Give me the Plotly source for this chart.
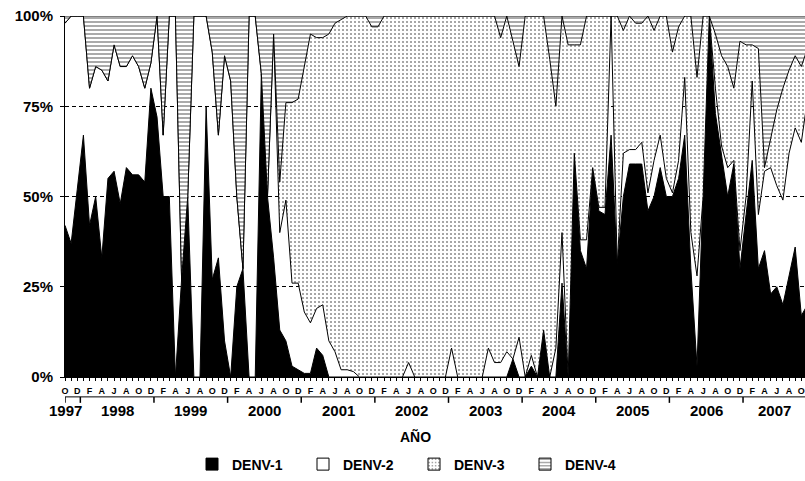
import plotly.graph_objects as go
import pandas as pd

# ---------------- data ----------------
months = [p.strftime('%Y-%m') for p in pd.period_range('1997-10', '2007-11', freq='M')]
month_initials = ['E', 'F', 'M', 'A', 'M', 'J', 'J', 'A', 'S', 'O', 'N', 'D']
years = ['1997', '1998', '1999', '2000', '2001', '2002', '2003', '2004', '2005', '2006', '2007']

denv1 = [42, 37, 52, 67, 42, 50, 33, 55, 57, 48,
         58, 56, 56, 54, 80, 72, 50, 50, 0, 27,
         50, 0, 0, 75, 27, 33, 10, 0, 25, 30,
         0, 0, 84, 50, 33, 13, 10, 3, 2, 1,
         1, 8, 6, 0, 0, 0, 0, 0, 0,
         0, 0, 0, 0, 0, 0, 0, 0, 0, 0,
         0, 0, 0, 0, 0, 0, 0, 0, 0, 0,
         0, 0, 0, 0, 5, 0, 0, 3, 0, 13,
         0, 0, 26, 0, 62, 35, 30, 58, 46,
         45, 67, 31, 50, 59, 59, 59, 46, 50, 58,
         50, 50, 55, 67, 30, 3, 50, 100, 73, 62,
         50, 59, 30, 45, 60, 30, 35, 23, 25, 20,
         28, 36, 17, 20]

denv2 = [56, 63, 48, 33, 38, 36, 52, 27, 35, 38,
         28, 33, 30, 26, 7, 28, 17, 50, 100, 0,
         0, 100, 100, 25, 63, 34, 79, 82, 25, 0,
         100, 100, 0, 0, 62, 27, 39, 23, 24, 17,
         14, 11, 14, 10, 7, 2, 2, 1.5, 0,
         0, 0, 0, 0, 0, 0, 0, 4, 0, 0,
         0, 0, 0, 0, 8, 0, 0, 0, 0, 0,
         8, 4, 4, 7, 0, 11, 0, 3, 0, 0,
         0, 8, 14, 0, 0, 3, 8, 0, 1,
         2, 33, 0, 12, 4, 4, 6, 5, 10, 9,
         5, 1, 5, 16, 10, 25, 0, 0, 7, 2,
         8, 1, 5, 5, 22, 15, 22, 35, 28, 29,
         34, 33, 48, 57]

denv3 = [0, 0, 0, 0, 0, 0, 0, 0, 0, 0,
         0, 0, 0, 0, 0, 0, 0, 0, 0, 0,
         0, 0, 0, 0, 0, 0, 0, 0, 0, 0,
         0, 0, 0, 0, 0, 14, 27, 50, 51, 68,
         80, 75, 74, 85, 91, 97, 98, 98.5, 100,
         100, 97, 97, 100, 100, 100, 100, 96, 100, 100,
         100, 100, 100, 100, 92, 100, 100, 100, 100, 100,
         92, 96, 90, 93, 88, 75, 100, 94, 100, 87,
         88, 67, 60, 92, 30, 54, 62, 42, 53,
         53, 0, 69, 34, 37, 35, 33, 49, 36, 33,
         45, 39, 37, 17, 60, 55, 50, 0, 15, 25,
         28, 20, 58, 42, 10, 46, 1, 8, 21, 31,
         23, 20, 21, 14]

denv4 = [2, 0, 0, 0, 20, 14, 15, 18, 8, 14,
         14, 11, 14, 20, 13, 0, 33, 0, 0, 73,
         50, 0, 0, 0, 10, 33, 11, 18, 50, 70,
         0, 0, 16, 50, 5, 46, 24, 24, 23, 14,
         5, 6, 6, 5, 2, 1, 0, 0, 0,
         0, 3, 3, 0, 0, 0, 0, 0, 0, 0,
         0, 0, 0, 0, 0, 0, 0, 0, 0, 0,
         0, 0, 6, 0, 7, 14, 0, 0, 0, 0,
         12, 25, 0, 8, 8, 8, 0, 0, 0,
         0, 0, 0, 4, 0, 2, 2, 0, 4, 0,
         0, 10, 3, 0, 0, 17, 0, 0, 5, 11,
         14, 20, 7, 8, 8, 9, 42, 34, 26, 20,
         15, 11, 14, 9]

# ---------------- styling ----------------
FONT = 'Liberation Sans, Arial, sans-serif'
X_MAX = 120.6
n = min(len(months), len(denv1), len(denv2), len(denv3), len(denv4))
x = list(range(n))

def py(pix):
    # pixel row -> paper fraction of the plot area (plot spans rows 16..379)
    return (379 - pix) / 363.0

DOTS = dict(shape='.', fgcolor='#222222', bgcolor='white', size=4, solidity=0.22)
WAVES = dict(shape='-', fgcolor='#333333', bgcolor='white', size=4, solidity=0.42)

fills = {
    'DENV-1': dict(fillcolor='black'),
    'DENV-2': dict(fillcolor='rgba(255,255,255,0)'),
    'DENV-3': dict(fillcolor='white', fillpattern=dict(DOTS, fillmode='overlay')),
    'DENV-4': dict(fillcolor='white', fillpattern=dict(WAVES, fillmode='overlay')),
}
legend_markers = {
    'DENV-1': dict(color='black'),
    'DENV-2': dict(color='white'),
    'DENV-3': dict(color='white', pattern=dict(DOTS)),
    'DENV-4': dict(color='white', pattern=dict(WAVES)),
}

fig = go.Figure()
for name, vals in [('DENV-1', denv1), ('DENV-2', denv2), ('DENV-3', denv3), ('DENV-4', denv4)]:
    fig.add_trace(go.Scatter(x=x, y=vals[:n], name=name, stackgroup='s', mode='lines',
                             line=dict(color='black', width=1), showlegend=False,
                             hoverinfo='skip', **fills[name]))
for name in ['DENV-1', 'DENV-2', 'DENV-3', 'DENV-4']:
    mk = dict(legend_markers[name])
    mk['line'] = dict(color='black', width=1)
    fig.add_trace(go.Bar(x=[None], y=[None], name=name, marker=mk, showlegend=True))

# month ticks: every second month labelled with its initial
tickvals = [i for i in x if i % 2 == 0]
ticktext = [month_initials[int(months[i][5:7]) - 1] for i in tickvals]

# year separators & labels
shapes = [dict(type='line', xref='x', yref='paper', x0=0, x1=X_MAX, y0=py(399), y1=py(399),
               line=dict(color='black', width=1))]
bounds = [0] + [i - 0.5 for i in x if months[i][5:7] == '01']
for b in bounds:
    shapes.append(dict(type='line', xref='x', yref='paper', x0=b, x1=b, y0=py(399), y1=py(405),
                       line=dict(color='black', width=1.5)))
annotations = []
for yr in years:
    idx = [i for i in x if months[i][:4] == yr]
    if yr == years[0]:
        cx = 0
    else:
        lo = idx[0] - 0.5
        hi = min(idx[-1] + 0.5, X_MAX)
        cx = (lo + hi) / 2
    annotations.append(dict(text=yr, xref='x', yref='paper', x=cx, y=py(413), showarrow=False,
                            xanchor='center', yanchor='middle',
                            font=dict(family=FONT, size=15, color='black', weight='bold')))
annotations.append(dict(text='AÑO', xref='paper', yref='paper', x=(415 - 65) / 740, y=py(439),
                        showarrow=False, xanchor='center', yanchor='middle',
                        font=dict(family=FONT, size=14, color='black', weight='bold')))

fig.update_layout(
    width=805, height=481,
    margin=dict(l=65, r=0, t=16, b=102),
    paper_bgcolor='white', plot_bgcolor='white',
    font=dict(family=FONT, color='black'),
    shapes=shapes, annotations=annotations,
    showlegend=True,
    legend=dict(orientation='h', traceorder='normal', x=(192 - 65) / 740, xanchor='left',
                y=py(467), yanchor='middle',
                font=dict(family=FONT, size=14, color='black', weight='bold'),
                entrywidth=66, entrywidthmode='pixels', bgcolor='rgba(0,0,0,0)'),
    xaxis=dict(range=[0, X_MAX], tickmode='array', tickvals=tickvals, ticktext=ticktext,
               ticks='outside', ticklen=3, tickwidth=1, tickcolor='black', automargin=False,
               ticklabelstandoff=2, ticklabeloverflow='allow',
               showline=True, linecolor='black', linewidth=1, showgrid=False, zeroline=False,
               tickfont=dict(family=FONT, size=9, color='black', weight='bold'),
               minor=dict(tickmode='array', tickvals=x, ticks='outside', ticklen=3,
                          tickcolor='black', showgrid=False)),
    yaxis=dict(range=[0, 100], tickmode='array', tickvals=[0, 25, 50, 75, 100],
               ticktext=['0%', '25%', '50%', '75%', '100%'], automargin=False,
               ticks='outside', ticklen=4, tickcolor='black', ticklabelstandoff=4,
               ticklabeloverflow='allow',
               showline=True, linecolor='black', linewidth=1,
               showgrid=True, gridcolor='black', gridwidth=1, griddash='4px,3px',
               zeroline=False,
               tickfont=dict(family=FONT, size=15, color='black', weight='bold')),
)

# remove the default page margin so the 805x481 figure fills the window exactly
fig.write_html('out.html',
               config={'displayModeBar': False, 'staticPlot': True},
               post_script="document.documentElement.style.margin='0';"
                           "document.body.style.margin='0';"
                           "document.body.style.overflow='hidden';")
